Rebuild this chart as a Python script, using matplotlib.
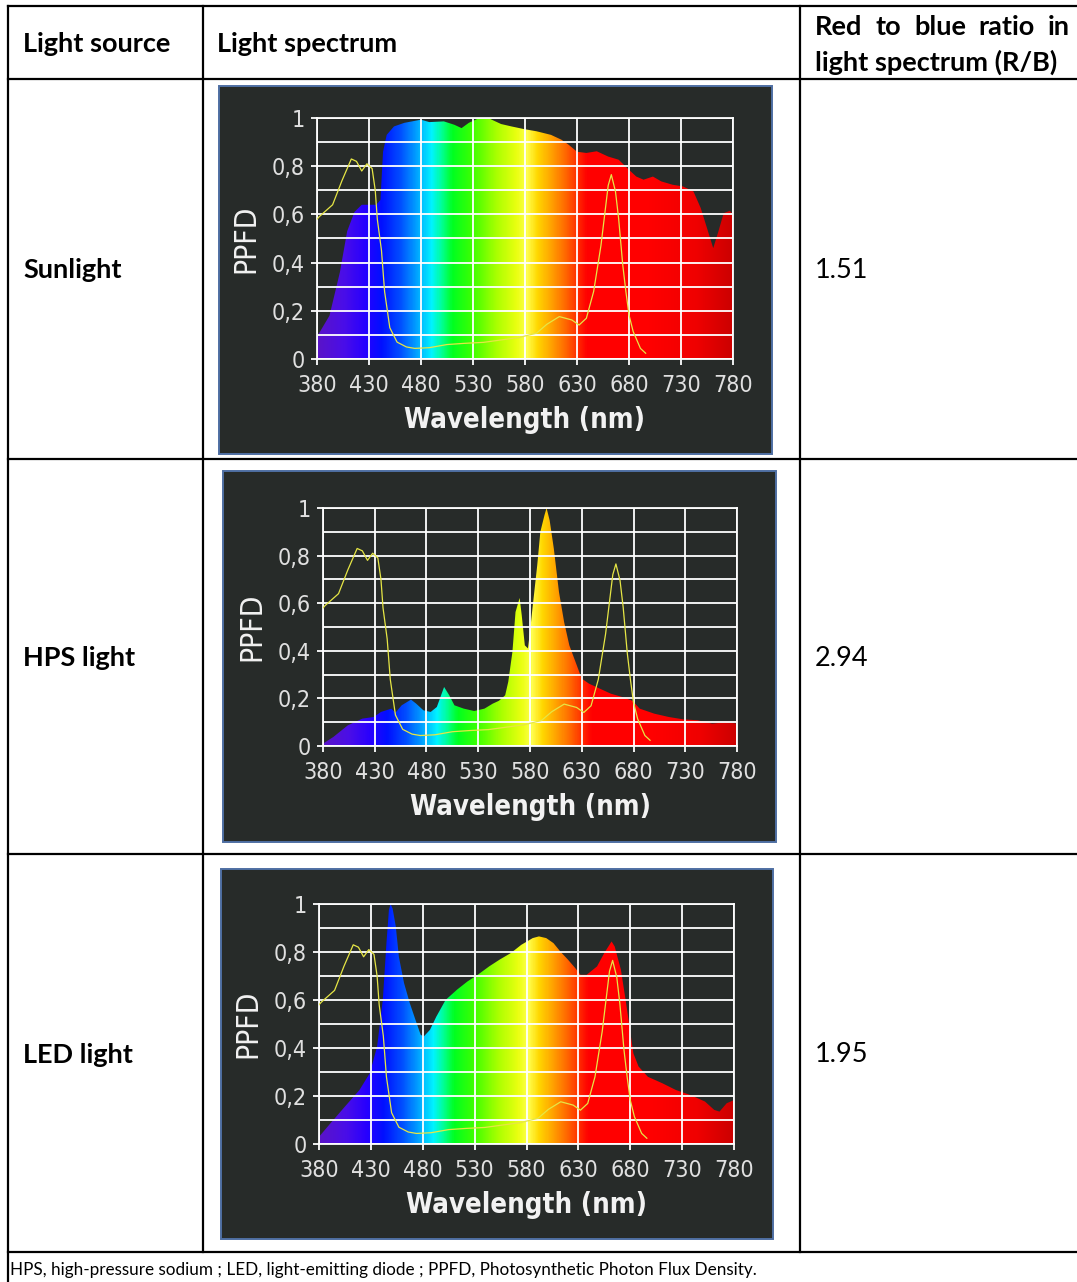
import os
import numpy as np
import matplotlib
matplotlib.use("Agg")
import matplotlib.pyplot as plt
from matplotlib import font_manager as fm
from matplotlib.colors import LinearSegmentedColormap
from matplotlib.lines import Line2D
from matplotlib.patches import Rectangle, Polygon

W, H = 1077, 1282

# table content ---------------------------------------------------------------
HEADERS = ["Light source", "Light spectrum"]
HEADER_R = ["Red to blue ratio in", "light spectrum (R/B)"]
SOURCES = ["Sunlight", "HPS light", "LED light"]
RATIOS = ["1.51", "2.94", "1.95"]
FOOTNOTE = ("HPS, high-pressure sodium ; LED, light-emitting diode ; "
            "PPFD, Photosynthetic Photon Flux Density.")

# axis ticks of the spectrum plots
X_TICKS = [380, 430, 480, 530, 580, 630, 680, 730, 780]
Y_TICKS = [0, 0.2, 0.4, 0.6, 0.8, 1.0]
Y_TICKLABELS = ["0", "0,2", "0,4", "0,6", "0,8", "1"]

# yellow reference curve (same in every panel)
ABS_WL = [380, 382, 395, 404, 413, 418, 423, 428, 433, 436, 438, 442, 445, 450,
          457, 466, 474, 488, 505, 522, 540, 557, 574, 591, 601, 613, 625, 632,
          639, 646, 653, 660, 663, 667, 670, 674, 677, 680, 684, 691, 696]
ABS_VAL = [0.58, 0.59, 0.64, 0.74, 0.83, 0.82, 0.78, 0.81, 0.79, 0.70, 0.58,
           0.45, 0.28, 0.13, 0.07, 0.05, 0.044, 0.047, 0.06, 0.065, 0.069,
           0.079, 0.089, 0.107, 0.144, 0.176, 0.162, 0.141, 0.169, 0.28, 0.47,
           0.72, 0.765, 0.695, 0.584, 0.39, 0.28, 0.183, 0.114, 0.044, 0.024]

# spectra -------------------------------------------------------------------
SUN_WL = [380, 382, 392, 402, 409, 416, 423, 430, 437, 441, 443.5, 447, 454,
          464, 480, 488, 502, 512, 519, 526, 536, 546, 557, 567, 579, 591, 605,
          615, 622, 630, 639, 649, 660, 670, 680, 687, 694, 703, 711, 722, 732,
          742, 749, 754, 761, 766, 771, 777, 780]
SUN_VAL = [0.10, 0.107, 0.18, 0.36, 0.53, 0.61, 0.64, 0.64, 0.64, 0.66, 0.86,
           0.93, 0.965, 0.98, 0.993, 0.983, 0.986, 0.972, 0.958, 0.98, 1.0,
           0.997, 0.975, 0.965, 0.954, 0.945, 0.93, 0.91, 0.889, 0.86, 0.855,
           0.862, 0.84, 0.827, 0.785, 0.757, 0.744, 0.757, 0.737, 0.723, 0.716,
           0.695, 0.626, 0.557, 0.46, 0.53, 0.605, 0.615, 0.6]

HPS_WL = [380, 390, 404, 418, 429, 436, 446, 450, 456, 465, 470, 477, 484, 490,
          497, 502, 507, 516, 526, 536, 544, 550, 556, 559, 563, 566, 570, 572,
          575, 578, 580, 582, 587, 590, 594, 596, 599, 603, 608, 613, 618, 624,
          630, 637, 648, 658, 669, 679, 686, 700, 714, 728, 742, 756, 770, 780]
HPS_VAL = [0.01, 0.038, 0.087, 0.115, 0.122, 0.143, 0.157, 0.14, 0.171, 0.195,
           0.178, 0.15, 0.143, 0.164, 0.248, 0.213, 0.171, 0.157, 0.147, 0.157,
           0.178, 0.19, 0.213, 0.27, 0.395, 0.563, 0.622, 0.55, 0.423, 0.41,
           0.48, 0.563, 0.76, 0.9, 0.97, 1.0, 0.948, 0.83, 0.647, 0.52, 0.423,
           0.353, 0.283, 0.262, 0.24, 0.22, 0.206, 0.19, 0.157, 0.136, 0.122,
           0.112, 0.108, 0.094, 0.1, 0.094]

LED_WL = [380, 391, 405, 419, 429, 436, 441.5, 445, 447.4, 449, 451, 454, 457,
          462, 467.5, 473, 478, 481, 487, 493, 502, 513, 523, 533, 544, 554,
          565, 575, 586, 592, 599, 606, 613, 620, 627, 632, 638, 648, 655, 662,
          665, 671, 676, 683, 688, 697, 711, 724, 738, 752, 761, 766, 773, 780]
LED_VAL = [0.03, 0.086, 0.156, 0.225, 0.295, 0.406, 0.6, 0.837, 0.976, 1.0,
           0.98, 0.907, 0.78, 0.67, 0.587, 0.517, 0.455, 0.448, 0.476, 0.53,
           0.6, 0.643, 0.677, 0.705, 0.74, 0.768, 0.796, 0.83, 0.858, 0.865,
           0.858, 0.837, 0.8, 0.768, 0.733, 0.705, 0.705, 0.74, 0.796, 0.844,
           0.823, 0.726, 0.587, 0.378, 0.323, 0.28, 0.253, 0.225, 0.204, 0.177,
           0.142, 0.135, 0.17, 0.183]

SPECTRA = [(SUN_WL, SUN_VAL), (HPS_WL, HPS_VAL), (LED_WL, LED_VAL)]

# layout (pixels, origin top-left) ------------------------------------------
BOXES = [(219, 86, 772, 454), (223, 471, 776, 842), (221, 869, 773, 1239)]
PLOTS = [(317, 118, 733, 359), (323, 508, 737, 746), (319, 904, 734, 1144)]
ROW_MID = [270, 658, 1055]

BG = "#272b29"
SPEC_STOPS = [(380, "#5a14c8"), (405, "#4a0ee8"), (425, "#2800ff"),
              (442, "#0010ff"), (460, "#0050ff"), (475, "#00a0ff"),
              (490, "#00f4ff"), (500, "#00ff90"), (510, "#00ff20"),
              (530, "#40ff00"), (552, "#a8ff00"), (572, "#eaff10"),
              (582, "#ffff50"), (592, "#ffd800"), (606, "#ffa000"),
              (620, "#ff6400"), (630, "#ff3000"), (640, "#ff0000"),
              (700, "#ff0000"), (745, "#f00000"), (780, "#cc0000")]
spec_cmap = LinearSegmentedColormap.from_list(
    "spec", [((w - 380) / 400, c) for w, c in SPEC_STOPS])

TXT_FONT = ["Lato", "DejaVu Sans"]
TXT_SIZE = 19.5

# the spectrum pictures use a very narrow typeface; take the narrowest one
# that is installed (file name, size scale)
NARROW_REG = [("NotoSans-ExtraCondensed.ttf", 1.25),
              ("NotoSans-Condensed.ttf", 1.1),
              ("LiberationSansNarrow-Regular.ttf", 1.0),
              ("DejaVuSansCondensed.ttf", 0.9)]
NARROW_BOLD = [("NotoSans-ExtraCondensedBold.ttf", 1.25),
               ("NotoSans-CondensedBold.ttf", 1.1),
               ("LiberationSansNarrow-Bold.ttf", 1.0),
               ("DejaVuSansCondensed-Bold.ttf", 0.9)]
installed = {os.path.basename(f.fname): f.fname for f in fm.fontManager.ttflist}


def narrow_font(prefs, weight):
    for name, scale in prefs:
        if name in installed:
            return fm.FontProperties(fname=installed[name]), scale
    return fm.FontProperties(family="DejaVu Sans", weight=weight), 0.78


chart_reg, sc_reg = narrow_font(NARROW_REG, "normal")
chart_bold, sc_bold = narrow_font(NARROW_BOLD, "bold")

fig = plt.figure(figsize=(W / 100, H / 100), dpi=100)
fig.patch.set_facecolor("white")


def fx(x):
    return x / W


def fy(y):
    return 1 - y / H


def hline(y, x0, x1):
    fig.add_artist(Line2D([fx(x0), fx(x1)], [fy(y), fy(y)], color="black",
                          lw=1.6, transform=fig.transFigure))


def vline(x, y0, y1):
    fig.add_artist(Line2D([fx(x), fx(x)], [fy(y0), fy(y1)], color="black",
                          lw=1.6, transform=fig.transFigure))


# table grid
for y in [6, 79, 459, 854, 1252]:
    hline(y, 8, W)
vline(8, 6, H)
vline(203, 6, 1252)
vline(800, 6, 1252)

# header texts
fig.text(fx(23), fy(44), HEADERS[0], family=TXT_FONT, weight="bold",
         fontsize=TXT_SIZE, va="center", ha="left")
fig.text(fx(217), fy(44), HEADERS[1], family=TXT_FONT, weight="bold",
         fontsize=TXT_SIZE, va="center", ha="left")

renderer = fig.canvas.get_renderer()
words = HEADER_R[0].split()
texts = [fig.text(0, fy(27), w, family=TXT_FONT, weight="bold",
                  fontsize=TXT_SIZE, va="center", ha="left") for w in words]
widths = [t.get_window_extent(renderer).width for t in texts]
gap = (1070 - 815 - sum(widths)) / (len(words) - 1)
xpos = 815
for t, wd in zip(texts, widths):
    t.set_x(fx(xpos))
    xpos += wd + gap
fig.text(fx(815), fy(62), HEADER_R[1], family=TXT_FONT, weight="bold",
         fontsize=TXT_SIZE, va="center", ha="left")

for name, ratio, ym in zip(SOURCES, RATIOS, ROW_MID):
    fig.text(fx(23), fy(ym), name, family=TXT_FONT, weight="bold",
             fontsize=TXT_SIZE, va="center", ha="left")
    fig.text(fx(815), fy(ym), ratio, family=TXT_FONT, fontsize=TXT_SIZE,
             va="center", ha="left")

fig.text(fx(10), fy(1270), FOOTNOTE, family=TXT_FONT, fontsize=12.3,
         va="center", ha="left")

# spectrum panels
for (wl, val), box, plot in zip(SPECTRA, BOXES, PLOTS):
    bx0, by0, bx1, by1 = box
    fig.patches.append(Rectangle((fx(bx0), fy(by1)), fx(bx1 - bx0),
                                 (by1 - by0) / H, transform=fig.transFigure,
                                 facecolor=BG, edgecolor="#4f6fa3", lw=1.4,
                                 zorder=-1))
    px0, py0, px1, py1 = plot
    ax = fig.add_axes([fx(px0), fy(py1), fx(px1 - px0), (py1 - py0) / H])
    ax.set_facecolor("none")
    ax.set_xlim(380, 780)
    ax.set_ylim(0, 1)

    grad = np.linspace(380, 780, 800).reshape(1, -1)
    im = ax.imshow(grad, extent=[380, 780, 0, 1], aspect="auto",
                   cmap=spec_cmap, origin="lower", zorder=1,
                   interpolation="bilinear")
    shape = Polygon(np.column_stack([np.r_[wl[0], wl, wl[-1]],
                                     np.r_[0, val, 0]]), closed=True,
                    facecolor="none", edgecolor="none")
    ax.add_patch(shape)
    im.set_clip_path(shape)

    ax.plot(ABS_WL, ABS_VAL, color="#e6e645", lw=0.9, zorder=4)

    ax.set_xticks(X_TICKS)
    ax.set_yticks(Y_TICKS)
    ax.set_yticks(np.arange(0.1, 1.0, 0.2), minor=True)
    ax.set_yticklabels(Y_TICKLABELS)
    ax.grid(True, which="both", color="white", lw=1.3, zorder=3)
    ax.set_axisbelow(False)
    for s in ax.spines.values():
        s.set_color("white")
        s.set_linewidth(1.3)
        s.set_zorder(3)
    ax.tick_params(which="both", colors="white", length=4, width=1.3,
                   labelcolor="#e0e0e0")
    ax.tick_params(axis="x", pad=7)
    ax.tick_params(axis="y", pad=5)
    ax.tick_params(axis="y", which="minor", length=0)
    for lab in ax.get_xticklabels() + ax.get_yticklabels():
        lab.set_fontproperties(chart_reg)
        lab.set_fontsize(18.5 * sc_reg)
    ax.set_xlabel("Wavelength (nm)", fontproperties=chart_bold,
                  fontsize=22 * sc_bold, color="#f2f2f2", labelpad=6)
    ax.set_ylabel("PPFD", fontproperties=chart_reg, fontsize=24 * sc_reg,
                  color="#f2f2f2", labelpad=8)

fig.savefig("out.png", dpi=100, facecolor="white")
